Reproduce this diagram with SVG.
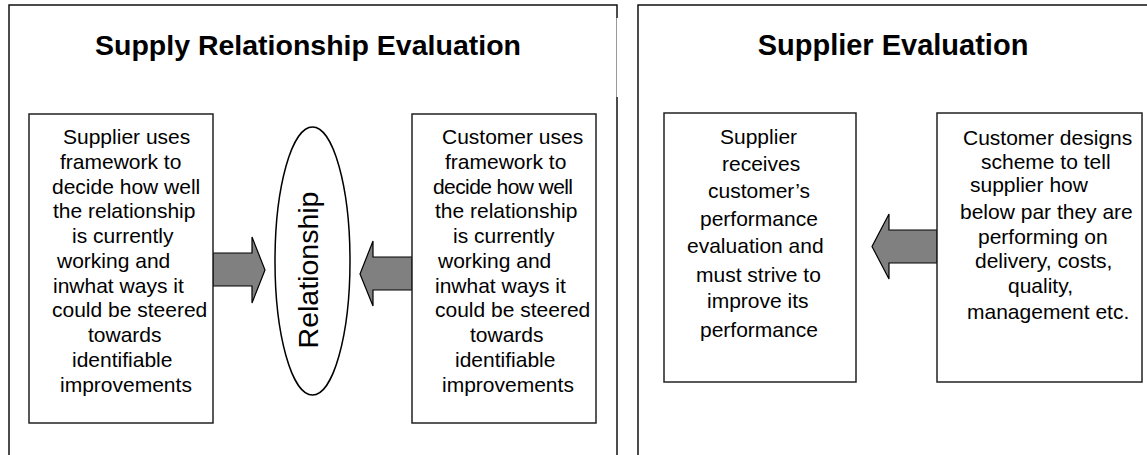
<svg xmlns="http://www.w3.org/2000/svg" width="1147" height="455" viewBox="0 0 1147 455">
<style>
.panel{fill:none;stroke:#111;stroke-width:1.5}
.thin{fill:none;stroke:#999;stroke-width:1}
.box{fill:#fff;stroke:#222;stroke-width:1.5}
.ell{fill:#fff;stroke:#000;stroke-width:1.5}
.arrow{fill:#808080;stroke:#000;stroke-width:1.2;stroke-linejoin:miter}
.title{font-family:"Liberation Sans",Arial,sans-serif;font-weight:bold;font-size:28.5px;fill:#000;text-anchor:middle}
.t{font-family:"Liberation Sans",Arial,sans-serif;font-size:21px;fill:#000}
.rel{font-family:"Liberation Sans",Arial,sans-serif;font-size:28.5px;fill:#000;text-anchor:middle}
</style>
<rect width="1147" height="455" fill="#fff"/>

<g id="panel-left">
  <path class="panel" d="M9,455 V5 H617 V18"/>
  <path class="thin" d="M616.5,18 V97"/>
  <path class="panel" d="M617,97 V455"/>
  <text class="title" x="308" y="55">Supply Relationship Evaluation</text>
</g>

<g id="panel-right">
  <path class="panel" d="M638,455 V5 H1147"/>
  <text class="title" x="893" y="55" style="font-size:29px">Supplier Evaluation</text>
</g>

<g id="connectors">
  <polygon class="arrow" points="213,253 252,253 252,237 265,270 252,303 252,286 213,286"/>
  <polygon class="arrow" points="412,257 373,257 373,241 360,274 373,306 373,290 412,290"/>
  <polygon class="arrow" points="937,230 889,230 889,214 872,246.5 889,279 889,263 937,263"/>
</g>

<g id="supplier-uses">
  <rect class="box" x="29" y="114" width="184" height="309"/>
  <text class="t" x="63" y="144">Supplier uses</text>
  <text class="t" x="60" y="168.8">framework to</text>
  <text class="t" x="52" y="193.6">decide how well</text>
  <text class="t" x="53" y="218.3">the relationship</text>
  <text class="t" x="72" y="243.1">is currently</text>
  <text class="t" x="57" y="267.9">working and</text>
  <text class="t" x="53" y="292.7">inwhat ways it</text>
  <text class="t" x="52" y="317.4">could be steered</text>
  <text class="t" x="88" y="342.2">towards</text>
  <text class="t" x="72" y="367">identifiable</text>
  <text class="t" x="60" y="391.7">improvements</text>
</g>

<g id="relationship">
  <ellipse class="ell" cx="312.5" cy="261" rx="37.5" ry="134"/>
  <text class="rel" transform="translate(318,270) rotate(-90)">Relationship</text>
</g>

<g id="customer-uses">
  <rect class="box" x="412" y="114" width="184" height="309"/>
  <text class="t" x="442" y="144">Customer uses</text>
  <text class="t" x="445" y="168.8">framework to</text>
  <text class="t" x="433" y="193.6" textLength="140" lengthAdjust="spacing">decide how well</text>
  <text class="t" x="435" y="218.3">the relationship</text>
  <text class="t" x="453" y="243.1">is currently</text>
  <text class="t" x="438" y="267.9">working and</text>
  <text class="t" x="435" y="292.7">inwhat ways it</text>
  <text class="t" x="435" y="317.4">could be steered</text>
  <text class="t" x="470" y="342.2">towards</text>
  <text class="t" x="455" y="367">identifiable</text>
  <text class="t" x="442" y="391.7">improvements</text>
</g>

<g id="supplier-receives">
  <rect class="box" x="664" y="113" width="192" height="269"/>
  <text class="t" x="720" y="144">Supplier</text>
  <text class="t" x="722" y="171">receives</text>
  <text class="t" x="708" y="198">customer’s</text>
  <text class="t" x="700" y="226">performance</text>
  <text class="t" x="687" y="253">evaluation and</text>
  <text class="t" x="696" y="282">must strive to</text>
  <text class="t" x="707" y="308">improve its</text>
  <text class="t" x="700" y="337">performance</text>
</g>

<g id="customer-designs">
  <rect class="box" x="937" y="113" width="205" height="269"/>
  <text class="t" x="963" y="145">Customer designs</text>
  <text class="t" x="981" y="169">scheme to tell</text>
  <text class="t" x="970" y="192">supplier how</text>
  <text class="t" x="960" y="219">below par they are</text>
  <text class="t" x="978" y="244">performing on</text>
  <text class="t" x="975" y="268">delivery, costs,</text>
  <text class="t" x="1008" y="293">quality,</text>
  <text class="t" x="967" y="319">management etc.</text>
</g>
</svg>
